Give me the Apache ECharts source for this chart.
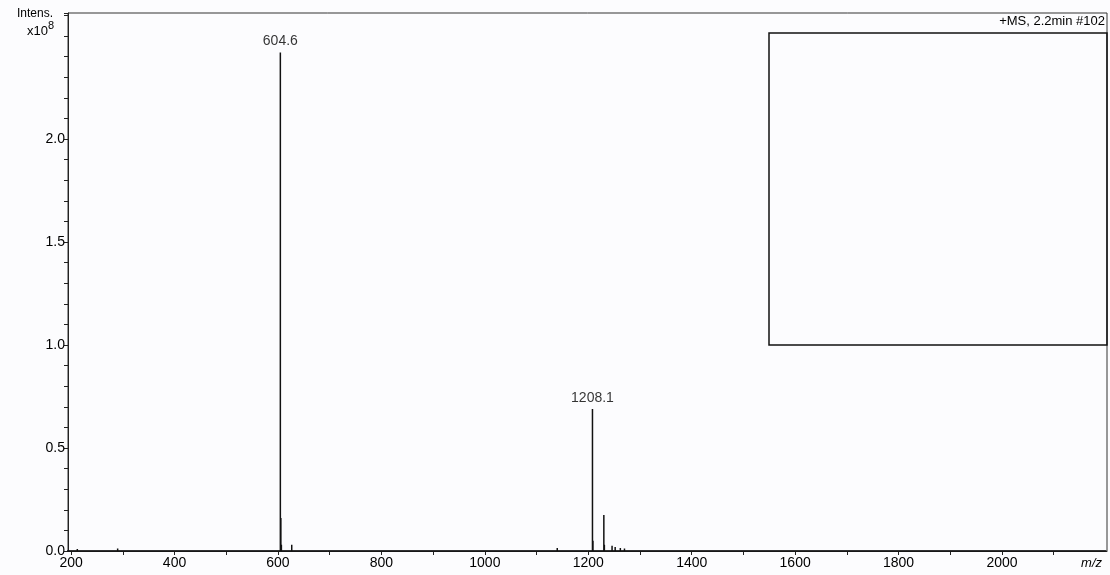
<!DOCTYPE html>
<html>
<head>
<meta charset="utf-8">
<script src="https://cdn.jsdelivr.net/npm/echarts@6/dist/echarts.min.js"></script>
<style>
html,body{margin:0;padding:0;background:#fcfcfe;}
#main{width:1110px;height:575px;}
</style>
</head>
<body>
<div id="main"></div>
<script>
// m/z values of the detected sticks and their intensities (x10^8)
const peakMz = [212, 228, 262, 290, 300, 330, 355, 405, 440, 470, 500, 530, 560, 582,
  604.6, 605.6, 606.6, 626.6, 660, 700, 760, 900, 1050, 1100, 1140, 1170,
  1208.1, 1209.1, 1230.1, 1231.1, 1246, 1252, 1262, 1270, 1282, 1300,
  1860, 1870, 1880, 1890, 1905];
const peakIntensity = [0.010, 0.008, 0.006, 0.012, 0.005, 0.006, 0.005, 0.006, 0.009, 0.005, 0.006, 0.007, 0.006, 0.005,
  2.42, 0.16, 0.03, 0.03, 0.006, 0.005, 0.004, 0.004, 0.006, 0.008, 0.015, 0.006,
  0.69, 0.05, 0.175, 0.03, 0.025, 0.02, 0.015, 0.012, 0.008, 0.006,
  0.007, 0.008, 0.006, 0.007, 0.006];
// annotated peaks
const labelMz = [604.6, 1208.1];
const labelIntensity = [2.42, 0.69];
const labelText = ['604.6', '1208.1'];
// axis tick labels
const xTickLabels = [200, 400, 600, 800, 1000, 1200, 1400, 1600, 1800, 2000];
const xMinorTicks = [200, 300, 400, 500, 600, 700, 800, 900, 1000, 1100, 1200, 1300, 1400, 1500, 1600, 1700, 1800, 1900, 2000, 2100];
const yTickLabels = ['0.0', '0.5', '1.0', '1.5', '2.0'];

const stickData = [];
stickData.push([190, 0]);
peakMz.forEach((m, i) => {
  stickData.push([m, 0]);
  stickData.push([m, peakIntensity[i]]);
  stickData.push([m, 0]);
});
stickData.push([2201, 0]);

const chart = echarts.init(document.getElementById('main'), null, {renderer: 'canvas'});
const font = 'Liberation Sans, Arial, sans-serif';
chart.setOption({
  backgroundColor: '#fcfcfe',
  animation: false,
  grid: {left: 68, right: 3, top: 13, bottom: 24, show: true, borderColor: '#333', borderWidth: 1, backgroundColor: 'transparent'},
  xAxis: {
    type: 'value', min: 194, max: 2203,
    axisLine: {show: true, onZero: false, lineStyle: {color: '#222', width: 1}},
    axisTick: {show: true, length: 4, customValues: xMinorTicks, lineStyle: {color: '#222'}},
    axisLabel: {show: true, customValues: xTickLabels, color: '#000', fontFamily: font, fontSize: 14, margin: 5,
      formatter: v => String(v)},
    splitLine: {show: false}
  },
  yAxis: {
    type: 'value', min: 0, max: 2.612, interval: 0.1,
    axisLine: {show: true, lineStyle: {color: '#222', width: 1}},
    axisTick: {show: true, length: 4, lineStyle: {color: '#222'}},
    axisLabel: {
      color: '#000', fontFamily: font, fontSize: 14, margin: 3,
      formatter: function (v) {
        const k = Math.round(v * 10);
        if (k % 5 === 0) { return yTickLabels[k / 5] || ''; }
        return '';
      }
    },
    splitLine: {show: false}
  },
  series: [
    {
      type: 'line', data: stickData, symbol: 'none',
      lineStyle: {color: '#111', width: 1.5},
      silent: true
    },
    {
      type: 'scatter', symbolSize: 0,
      data: labelMz.map((m, i) => ({value: [m, labelIntensity[i]], name: labelText[i]})),
      label: {show: true, position: 'top', distance: 4, formatter: p => p.name,
        color: '#000', fontFamily: font, fontSize: 14}
    }
  ],
  graphic: [
    {type: 'rect', shape: {x: 769, y: 33, width: 338, height: 312},
      style: {fill: 'none', stroke: '#111', lineWidth: 1.5}},
    {type: 'text', right: 5, top: 15, style: {text: '+MS, 2.2min #102', font: '13px Liberation Sans, Arial, sans-serif', fill: '#000'}},
    {type: 'text', left: 17, top: 8, style: {text: 'Intens.', font: '12px Liberation Sans, Arial, sans-serif', fill: '#000'}},
    {type: 'text', left: 27, top: 20, style: {
      text: '{a|x10}{b|8}',
      rich: {a: {font: '13px Liberation Sans, Arial, sans-serif', fill: '#000', padding: [6, 0, 0, 0]},
             b: {font: '11px Liberation Sans, Arial, sans-serif', fill: '#000', padding: [0, 0, 6, 0]}}
    }},
    {type: 'text', right: 8, top: 557, style: {text: 'm/z', font: 'italic 13px Liberation Sans, Arial, sans-serif', fill: '#000'}}
  ]
});
</script>
</body>
</html>
